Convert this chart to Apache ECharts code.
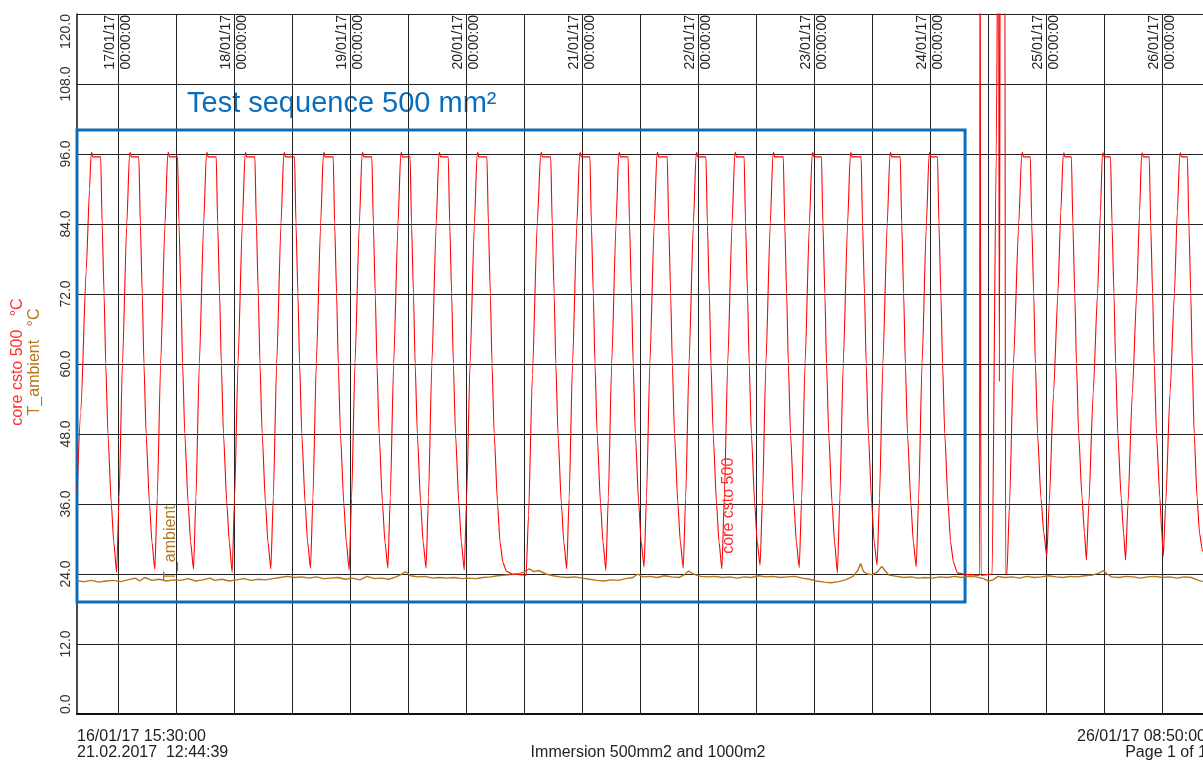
<!DOCTYPE html>
<html><head><meta charset="utf-8">
<script src="https://cdn.jsdelivr.net/npm/echarts@6/dist/echarts.min.js"></script>
<style>html,body{margin:0;padding:0;background:#fff}#c{width:1203px;height:764px}</style>
</head><body><div id="c"></div>
<script>
// x values: hours since 16/01/17 00:00:00
const startHour = 15.5;      // 16/01/17 15:30:00
const endHour = 248.8333;    // 26/01/17 08:50:00

const coreTemp = [
[15.5,38],[16.3,52],[17.4,76],[18.1,90],[18.4,95.8],[18.55,96.3],[18.75,95.5],[20.4,95.5],[20.7,84],[21.1,72],[21.45,60],[21.9,48],[22.6,36],[23.1,29.5],[23.7,24.3],
[24.2,37],[24.9,60],[25.8,84],[26.35,95.8],[26.5,96.3],[26.7,95.5],[28.3,95.5],[28.6,84],[29.0,72],[29.35,60],[29.8,48],[30.5,36],[31.0,29.5],[31.6,24.8],
[32.1,37],[32.8,60],[33.7,84],[34.25,95.8],[34.4,96.3],[34.6,95.5],[36.3,95.5],[36.6,84],[37.0,72],[37.35,60],[37.8,48],[38.5,36],[39.0,29.5],[39.6,24.8],
[40.1,37],[40.8,60],[41.7,84],[42.25,95.8],[42.4,96.3],[42.6,95.5],[44.3,95.5],[44.6,84],[45.0,72],[45.35,60],[45.8,48],[46.5,36],[47.0,29.5],[47.6,24.3],
[48.1,37],[48.8,60],[49.7,84],[50.25,95.8],[50.4,96.3],[50.6,95.5],[52.3,95.5],[52.6,84],[53.0,72],[53.35,60],[53.8,48],[54.5,36],[55.0,29.5],[55.6,24.9],
[56.1,37],[56.8,60],[57.7,84],[58.25,95.8],[58.4,96.3],[58.6,95.5],[60.5,95.5],[60.8,84],[61.2,72],[61.55,60],[62.0,48],[62.7,36],[63.2,29.5],[63.8,25.0],
[64.3,37],[65.0,60],[65.9,84],[66.45,95.8],[66.6,96.3],[66.8,95.5],[68.5,95.5],[68.8,84],[69.2,72],[69.55,60],[70.0,48],[70.7,36],[71.2,29.5],[71.8,24.7],
[72.3,37],[73.0,60],[73.9,84],[74.45,95.8],[74.6,96.3],[74.8,95.5],[76.5,95.5],[76.8,84],[77.2,72],[77.55,60],[78.0,48],[78.7,36],[79.2,29.5],[79.8,25.0],
[80.3,37],[81.0,60],[81.9,84],[82.45,95.8],[82.6,96.3],[82.8,95.5],[84.4,95.5],[84.7,84],[85.1,72],[85.45,60],[85.9,48],[86.6,36],[87.1,29.5],[87.7,25.0],
[88.2,37],[88.9,60],[89.8,84],[90.35,95.8],[90.5,96.3],[90.7,95.5],[92.3,95.5],[92.6,84],[93.0,72],[93.35,60],[93.8,48],[94.5,36],[95.0,29.5],[95.6,24.7],
[96.1,37],[96.8,60],[97.7,84],[98.25,95.8],[98.4,96.3],[98.6,95.5],[100.3,95.5],[100.6,84],[101.0,72],[101.35,60],[101.8,48],[102.5,36],[103.0,29.5],[103.6,26],[104.3,24.5],[105.5,24.0],[107.0,23.9],[108.4,23.8],
[108.9,34],[109.7,58],[110.7,84],[111.4,95.8],[111.55,96.3],[111.75,95.5],[113.5,95.5],[113.8,84],[114.2,72],[114.55,60],[115.0,48],[115.7,36],[116.2,29.5],[116.8,24.9],
[117.3,37],[118.0,60],[118.9,84],[119.45,95.8],[119.6,96.3],[119.8,95.5],[121.6,95.5],[121.9,84],[122.3,72],[122.65,60],[123.1,48],[123.8,36],[124.3,29.5],[124.9,24.6],
[125.4,37],[126.1,60],[127.0,84],[127.55,95.8],[127.7,96.3],[127.9,95.5],[129.5,95.5],[129.8,84],[130.2,72],[130.55,60],[131.0,48],[131.7,36],[132.2,29.5],[132.8,25.2],
[133.3,37],[134.0,60],[134.9,84],[135.45,95.8],[135.6,96.3],[135.8,95.5],[137.6,95.5],[137.9,84],[138.3,72],[138.65,60],[139.1,48],[139.8,36],[140.3,29.5],[140.9,25.0],
[141.4,37],[142.1,60],[143.0,84],[143.55,95.8],[143.7,96.3],[143.9,95.5],[145.6,95.5],[145.9,84],[146.3,72],[146.65,60],[147.1,48],[147.8,36],[148.3,29.5],[148.9,24.9],
[149.4,37],[150.1,60],[151.0,84],[151.55,95.8],[151.7,96.3],[151.9,95.5],[153.5,95.5],[153.8,84],[154.2,72],[154.55,60],[155.0,48],[155.7,36],[156.2,29.5],[156.8,25.5],
[157.3,37],[158.0,60],[158.9,84],[159.45,95.8],[159.6,96.3],[159.8,95.5],[161.6,95.5],[161.9,84],[162.3,72],[162.65,60],[163.1,48],[163.8,36],[164.3,29.5],[164.9,25.1],
[165.4,37],[166.1,60],[167.0,84],[167.55,95.8],[167.7,96.3],[167.9,95.5],[169.5,95.5],[169.8,84],[170.2,72],[170.55,60],[171.0,48],[171.7,36],[172.2,29.5],[172.8,24.2],
[173.3,37],[174.0,60],[174.9,84],[175.45,95.8],[175.6,96.3],[175.8,95.5],[177.7,95.5],[178.0,84],[178.4,72],[178.75,60],[179.2,48],[179.9,36],[180.4,29.5],[181.0,25.5],
[181.5,37],[182.2,60],[183.1,84],[183.65,95.8],[183.8,96.3],[184.0,95.5],[185.8,95.5],[186.1,84],[186.5,72],[186.85,60],[187.3,48],[188.0,36],[188.5,29.5],[189.1,25.2],
[189.6,37],[190.3,60],[191.2,84],[191.75,95.8],[191.9,96.3],[192.1,95.5],[193.5,95.5],[193.8,84],[194.2,72],[194.55,60],[195.0,48],[195.7,36],[196.2,29.5],[196.8,26],[197.6,24.2],[199.5,23.9],[202.2,23.8],
[202.3,150],[202.5,23.8],[204.8,24],[205.65,96],[206.1,150],[206.3,57],[206.5,150],[207.4,150],[207.6,24],[207.85,24],
[208.4,36],[209.2,60],[210.3,84],[210.9,95.8],[211.05,96.3],[211.25,95.5],[212.7,95.5],[213.0,84],[213.4,72],[213.75,60],[214.2,48],[214.9,37],[215.5,31],[216.1,27],
[216.6,36],[217.5,55],[218.4,72],[219.0,86],[219.5,95.8],[219.65,96.2],[219.85,95.5],[221.2,95.5],[221.5,84],[221.9,72],[222.25,60],[222.7,48],[223.4,37],[223.9,31],[224.3,26.4],
[224.8,36],[225.7,55],[226.6,72],[227.2,86],[227.6,95.8],[227.75,96.2],[227.95,95.5],[229.3,95.5],[229.6,84],[230.0,72],[230.35,60],[230.8,48],[231.5,37],[232.0,31],[232.4,26.4],
[232.9,36],[233.8,55],[234.7,72],[235.3,86],[235.7,95.8],[235.85,96.2],[236.05,95.5],[237.3,95.5],[237.6,84],[238.0,72],[238.35,60],[238.8,48],[239.5,37],[239.9,31],[240.2,27],
[240.7,36],[241.6,55],[242.5,72],[243.1,86],[243.6,95.8],[243.75,96.2],[243.95,95.5],[245.2,95.5],[245.5,84],[245.9,72],[246.2,60],[246.6,48],[247.2,37],[247.7,31],[248.3,28],[248.83,27]
];

const ambientTemp = [
[15.5,22.8],[17,22.7],[18.5,22.9],[20,22.6],[21.5,22.8],[23,22.9],[24.5,22.7],[26,23.0],[27.5,23.3],[28.5,22.8],[29.5,23.4],[31,22.9],[32.5,23.1],[34,22.8],[35.5,23.0],[37,22.9],[38.5,23.2],[40,22.8],[41.5,23.0],[43,23.3],[44,22.9],[45.5,23.1],[47,22.8],[48.5,23.0],[50,23.2],[51.5,22.9],[53,23.1],[54.5,23.0],[56,23.2],[57.5,23.4],[59,23.6],[60.5,23.4],[62,23.5],[63.5,23.3],[65,23.5],[66.5,23.2],[68,23.3],[69.5,23.4],[71,23.1],[72.5,23.3],[74,23.0],[75.5,23.6],[77,23.2],[78.5,23.3],[80,23.1],[81.5,23.5],[82.5,23.9],[83.5,24.4],[84.5,23.7],[86,23.5],[87.5,23.6],[89,23.3],[90.5,23.4],[92,23.3],[93.5,23.4],[95,23.2],[96.5,23.3],[98,23.2],[99.5,23.4],[101,23.5],[102.5,23.7],[104,23.8],[105.5,23.9],[107,24.1],[108,24.3],[109,24.9],[110,24.4],[111,24.6],[112.5,24.0],[114,23.7],[115.5,23.5],[117,23.4],[118.5,23.5],[120,23.3],[121.5,23.1],[123,22.9],[124.5,22.8],[126,23.0],[127.5,22.9],[129,23.2],[130.5,23.4],[131.5,24.0],[132.5,23.5],[134,23.6],[135.5,23.4],[137,23.7],[138.5,23.5],[140,23.4],[141,23.8],[142,24.5],[143,24.0],[144.5,23.6],[146,23.5],[147.5,23.6],[149,23.4],[150.5,23.5],[152,23.3],[153.5,23.5],[155,23.4],[156.5,23.7],[158,23.5],[159.5,23.6],[161,23.4],[162.5,23.5],[164,23.6],[165.5,23.3],[167,23.1],[168.5,22.8],[170,22.6],[171.5,22.5],[173,22.7],[174.5,23.0],[176,23.6],[177,24.6],[177.6,25.8],[178.2,24.4],[179,24.0],[180,23.9],[181,24.3],[182,25.3],[182.6,24.6],[183.5,23.8],[185,23.6],[186.5,23.4],[188,23.5],[189.5,23.3],[191,23.4],[192.5,23.3],[194,23.5],[195.5,23.4],[197,23.6],[198.5,23.4],[200,23.6],[201.5,23.5],[203,23.2],[204,22.8],[205,23.0],[206,23.6],[207.5,23.4],[209,23.5],[210.5,23.3],[212,23.6],[213.5,23.4],[215,23.5],[216.5,23.7],[218,23.5],[219.5,23.4],[221,23.6],[222.5,23.5],[224,23.7],[225.5,23.8],[227,24.2],[227.8,24.6],[228.6,24.0],[229.5,23.5],[231,23.4],[232.5,23.6],[234,23.5],[235.5,23.3],[237,23.5],[238.5,23.6],[240,23.4],[241.5,23.5],[243,23.3],[244.5,23.5],[246,23.4],[247.5,22.9],[248.83,22.6]
];

const dayTickHours = [24,48,72,96,120,144,168,192,216,240];
const dayTickLabels = ['17/01/17','18/01/17','19/01/17','20/01/17','21/01/17','22/01/17','23/01/17','24/01/17','25/01/17','26/01/17'];
const gridHours = [24,36,48,60,72,84,96,108,120,132,144,156,168,180,192,204,216,228,240];
const testBox = [[15.5,100.1],[199.2,19.2]];
const coreLabelAt = [150.2,35.7];
const ambientLabelAt = [34.95,29.3];

const FONT = "'Liberation Sans', Arial, sans-serif";
const RED = '#ff0000', BROWN = '#b5761c', BLUE = '#0a6ebd', GRID = '#222';

const chart = echarts.init(document.getElementById('c'), null, {renderer: 'canvas'});
chart.setOption({
  animation: false,
  backgroundColor: '#fff',
  textStyle: {fontFamily: FONT},
  grid: {left: 77, top: 14, width: 1128, height: 700, show: false, containLabel: false, outerBoundsMode: 'none'},
  xAxis: [{
    type: 'value', position: 'top', min: startHour, max: endHour,
    axisLine: {show: true, lineStyle: {color: '#111', width: 1}},
    axisTick: {show: false, customValues: gridHours},
    axisLabel: {
      inside: true, rotate: 90, margin: 1, customValues: dayTickHours,
      fontFamily: FONT, fontSize: 14, lineHeight: 16, color: '#222',
      formatter: v => dayTickLabels[dayTickHours.indexOf(Math.round(v))] + '\n00:00:00'
    },
    splitLine: {show: true, lineStyle: {color: GRID, width: 1}}
  }, {
    type: 'value', position: 'bottom', min: startHour, max: endHour,
    axisLine: {show: true, lineStyle: {color: '#111', width: 2}},
    axisTick: {show: false}, axisLabel: {show: false}, splitLine: {show: false}
  }],
  yAxis: {
    type: 'value', min: 0, max: 120, interval: 12,
    axisLine: {show: true, lineStyle: {color: '#111', width: 1.5}},
    axisTick: {show: false},
    axisLabel: {rotate: 90, margin: 4, fontFamily: FONT, fontSize: 14, color: '#333',
      alignMinLabel: 'left', alignMaxLabel: 'right',
      formatter: v => v.toFixed(1)},
    splitLine: {show: true, lineStyle: {color: GRID, width: 1}}
  },
  series: [{
    name: 'T_ambient', type: 'line', xAxisIndex: 0, data: ambientTemp,
    showSymbol: false, symbol: 'none', clip: true,
    lineStyle: {color: BROWN, width: 1.4}, itemStyle: {color: BROWN},
    markArea: {silent: true,
      itemStyle: {color: 'rgba(0,0,0,0)', borderColor: BLUE, borderWidth: 3},
      data: [[{coord: testBox[0]}, {coord: testBox[1]}]]},
    markPoint: {silent: true, symbol: 'circle', symbolSize: 1, itemStyle: {color: 'rgba(0,0,0,0)'},
      data: [{coord: ambientLabelAt, label: {show: true, position: 'inside', rotate: 90,
        formatter: 'T_ambient', color: BROWN, fontSize: 16, fontFamily: FONT}}]}
  }, {
    name: 'core csto 500', type: 'line', xAxisIndex: 0, data: coreTemp,
    showSymbol: false, symbol: 'none', clip: true,
    smooth: 0.2, smoothMonotone: 'x',
    lineStyle: {color: RED, width: 1.1}, itemStyle: {color: RED},
    markPoint: {silent: true, symbol: 'circle', symbolSize: 1, itemStyle: {color: 'rgba(0,0,0,0)'},
      data: [{coord: coreLabelAt, label: {show: true, position: 'inside', rotate: 90,
        formatter: 'core csto 500', color: '#ff3030', fontSize: 16, fontFamily: FONT}}]}
  }],
  graphic: [
    {type: 'text', left: 187, top: 89, style: {text: 'Test sequence 500 mm²', fill: BLUE, font: '29px ' + FONT}},
    {type: 'text', x: 18, y: 362, rotation: Math.PI / 2, style: {text: 'core csto 500   °C', fill: '#ff3030', font: '16px ' + FONT, align: 'center', verticalAlign: 'middle'}},
    {type: 'text', x: 35, y: 362, rotation: Math.PI / 2, style: {text: 'T_ambient   °C', fill: BROWN, font: '16px ' + FONT, align: 'center', verticalAlign: 'middle'}},
    {type: 'text', x: 77, y: 737, style: {text: '16/01/17 15:30:00', fill: '#222', font: '16px ' + FONT, align: 'left', verticalAlign: 'middle'}},
    {type: 'text', x: 77, y: 753, style: {text: '21.02.2017  12:44:39', fill: '#222', font: '16px ' + FONT, align: 'left', verticalAlign: 'middle'}},
    {type: 'text', x: 648, y: 753, style: {text: 'Immersion 500mm2 and 1000m2', fill: '#222', font: '16px ' + FONT, align: 'center', verticalAlign: 'middle'}},
    {type: 'text', x: 1206, y: 737, style: {text: '26/01/17 08:50:00', fill: '#222', font: '16px ' + FONT, align: 'right', verticalAlign: 'middle'}},
    {type: 'text', x: 1207, y: 753, style: {text: 'Page 1 of 1', fill: '#222', font: '16px ' + FONT, align: 'right', verticalAlign: 'middle'}}
  ]
});
</script></body></html>
